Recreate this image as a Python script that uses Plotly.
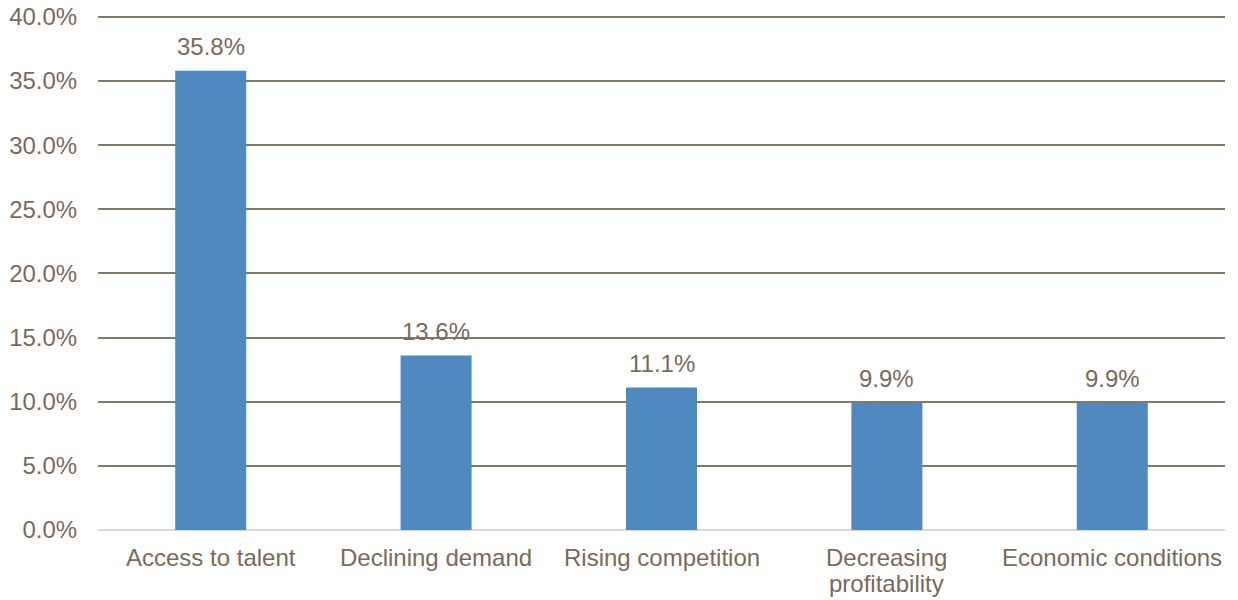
import plotly.graph_objects as go

# Share of respondents citing each factor as their biggest challenge
categories = [
    "Access to talent",
    "Declining demand",
    "Rising competition",
    "Decreasing<br>profitability",
    "Economic conditions",
]
shares = [35.8, 13.6, 11.1, 9.9, 9.9]
y_ticks = [0, 5, 10, 15, 20, 25, 30, 35, 40]
y_tick_labels = [f"{v:.1f}%" for v in y_ticks]

BAR = "#4E89BF"
TEXT = "#7A6A57"
GRID = "#877760"
FONT = "Liberation Sans, Arial, sans-serif"
SIZE = 24
LINE_GAP = 26  # px between wrapped category-label lines

fig = go.Figure(
    go.Bar(
        x=categories,
        y=shares,
        width=0.315,
        marker=dict(color=BAR, line=dict(width=0)),
        hoverinfo="skip",
    )
)

# Value labels above each bar
for cat, val in zip(categories, shares):
    fig.add_annotation(
        x=cat, y=val, text=f"{val:.1f}%",
        showarrow=False, yanchor="bottom", yshift=9,
        font=dict(family=FONT, size=SIZE, color=TEXT),
    )

# Category labels under the axis, with tighter line spacing for wrapped names
for cat in categories:
    for i, line in enumerate(cat.split("<br>")):
        fig.add_annotation(
            x=cat, xref="x", y=0, yref="paper", text=line,
            showarrow=False, yanchor="top", yshift=-12 - i * LINE_GAP,
            font=dict(family=FONT, size=SIZE, color=TEXT),
        )

fig.update_layout(
    width=1238, height=600,
    margin=dict(l=98, r=13, t=15, b=70),
    paper_bgcolor="white", plot_bgcolor="white",
    font=dict(family=FONT, size=SIZE, color=TEXT),
    showlegend=False,
    bargap=0.685,
)
fig.update_xaxes(
    automargin=False,
    showgrid=False, showline=False, zeroline=False,
    showticklabels=False,
)
fig.update_yaxes(
    automargin=False,
    range=[0, 40.15], tickvals=y_ticks, ticktext=y_tick_labels,
    showgrid=True, gridcolor=GRID, gridwidth=2,
    zeroline=True, zerolinecolor="#D9D9D9", zerolinewidth=2,
    showline=False,
    ticks="outside", ticklen=15, tickcolor="rgba(0,0,0,0)",
    tickfont=dict(family=FONT, size=SIZE, color=TEXT),
)

fig.write_html("out.html")
